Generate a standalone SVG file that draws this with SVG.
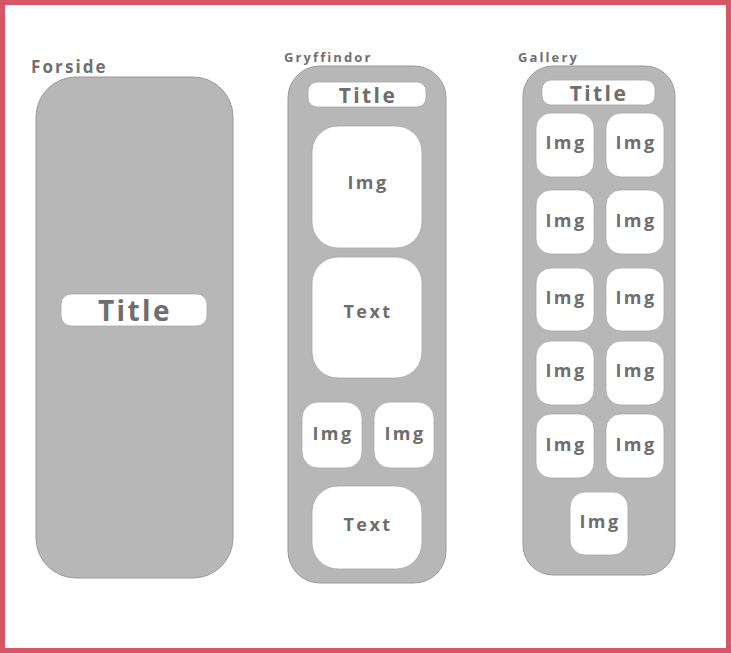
<svg xmlns="http://www.w3.org/2000/svg" width="732" height="653" viewBox="0 0 732 653">
<style>
.panel{fill:#b7b7b7;stroke:#9a9a9a;stroke-width:1}
.box{fill:#ffffff;stroke:#a8a8a8;stroke-width:0.8}
.t{font-family:"Open Sans","DejaVu Sans",sans-serif;font-weight:bold;fill:#6e6e6e;text-anchor:middle;dominant-baseline:central;letter-spacing:2.4px}
.lbl{font-family:"Open Sans","DejaVu Sans",sans-serif;font-weight:bold;fill:#707070;letter-spacing:2.1px}
</style>
<rect x="0" y="0" width="732" height="653" fill="#ffffff"/>
<rect x="2.5" y="2.5" width="726" height="648" fill="none" stroke="#d45667" stroke-width="5"/>
<g id="forside">
<text class="lbl" x="31" y="73" font-size="17">Forside</text>
<rect class="panel" x="36" y="77" width="197" height="501" rx="40"/>
<g id="forside-title"><rect class="box" x="61" y="294" width="146" height="32" rx="10"/><text class="t" x="135" y="310" font-size="28">Title</text></g>
</g>
<g id="gryffindor">
<text class="lbl" x="284" y="62" font-size="13">Gryffindor</text>
<rect class="panel" x="288" y="66" width="158" height="517" rx="32"/>
<g id="g-title"><rect class="box" x="308" y="82" width="118" height="25" rx="9"/><text class="t" x="368" y="95" font-size="21">Title</text></g>
<g id="g-img1"><rect class="box" x="312" y="126" width="110" height="122" rx="26"/><text class="t" x="368" y="182" font-size="18">Img</text></g>
<g id="g-text1"><rect class="box" x="312" y="257" width="110" height="121" rx="26"/><text class="t" x="368" y="311" font-size="18">Text</text></g>
<g id="g-img2"><rect class="box" x="302" y="402" width="60" height="66" rx="16"/><text class="t" x="333" y="433" font-size="18">Img</text></g>
<g id="g-img3"><rect class="box" x="374" y="402" width="60" height="66" rx="16"/><text class="t" x="405" y="433" font-size="18">Img</text></g>
<g id="g-text2"><rect class="box" x="312" y="486" width="110" height="83" rx="26"/><text class="t" x="368" y="524" font-size="18">Text</text></g>
</g>
<g id="gallery">
<text class="lbl" x="518" y="62" font-size="13">Gallery</text>
<rect class="panel" x="523" y="66" width="152" height="509" rx="30"/>
<g id="ga-title"><rect class="box" x="542" y="80" width="113" height="25" rx="9"/><text class="t" x="599" y="93" font-size="21">Title</text></g>
<g id="ga-img1"><rect class="box" x="536" y="113" width="58" height="64" rx="15"/><text class="t" x="566" y="142" font-size="18">Img</text></g>
<g id="ga-img2"><rect class="box" x="606" y="113" width="58" height="64" rx="15"/><text class="t" x="636" y="142" font-size="18">Img</text></g>
<g id="ga-img3"><rect class="box" x="536" y="190" width="58" height="64" rx="15"/><text class="t" x="566" y="220" font-size="18">Img</text></g>
<g id="ga-img4"><rect class="box" x="606" y="190" width="58" height="64" rx="15"/><text class="t" x="636" y="220" font-size="18">Img</text></g>
<g id="ga-img5"><rect class="box" x="536" y="268" width="58" height="63" rx="15"/><text class="t" x="566" y="297" font-size="18">Img</text></g>
<g id="ga-img6"><rect class="box" x="606" y="268" width="58" height="63" rx="15"/><text class="t" x="636" y="297" font-size="18">Img</text></g>
<g id="ga-img7"><rect class="box" x="536" y="341" width="58" height="64" rx="15"/><text class="t" x="566" y="370" font-size="18">Img</text></g>
<g id="ga-img8"><rect class="box" x="606" y="341" width="58" height="64" rx="15"/><text class="t" x="636" y="370" font-size="18">Img</text></g>
<g id="ga-img9"><rect class="box" x="536" y="414" width="58" height="64" rx="15"/><text class="t" x="566" y="444" font-size="18">Img</text></g>
<g id="ga-img10"><rect class="box" x="606" y="414" width="58" height="64" rx="15"/><text class="t" x="636" y="444" font-size="18">Img</text></g>
<g id="ga-img11"><rect class="box" x="570" y="492" width="58" height="63" rx="15"/><text class="t" x="600" y="521" font-size="18">Img</text></g>
</g>
<g id="connectors"/>
</svg>
